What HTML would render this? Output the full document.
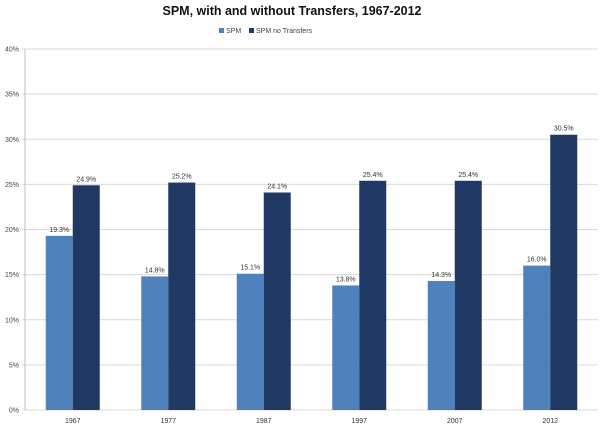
<!DOCTYPE html>
<html><head><meta charset="utf-8"><style>
body{margin:0;background:#fff;width:600px;height:429px;overflow:hidden;font-family:"Liberation Sans",sans-serif}
</style></head><body>
<svg id="chart" width="600" height="429" xmlns="http://www.w3.org/2000/svg">
<text x="292" y="15" text-anchor="middle" font-size="13" font-weight="bold" fill="#111" textLength="259" lengthAdjust="spacingAndGlyphs">SPM, with and without Transfers, 1967-2012</text>
<g font-size="7" fill="#444">
<rect x="219" y="28" width="5" height="5" fill="#4f81bd"/>
<text x="226" y="33">SPM</text>
<rect x="249" y="28" width="5" height="5" fill="#1f3864"/>
<text x="256" y="33">SPM no Transfers</text>
</g>
<g id="plot"></g>
</svg>
<script>
const categories=["1967","1977","1987","1997","2007","2012"];
const spm=[19.3,14.8,15.1,13.8,14.3,16.0];
const spmNoTransfers=[24.9,25.2,24.1,25.4,25.4,30.5];
const yTicks=[0,5,10,15,20,25,30,35,40];
const NS="http://www.w3.org/2000/svg";
const L=25,R=598,T=49,B=410,yMax=40;
const y=v=>B-(v/yMax)*(B-T);
const bw=(R-L)/categories.length;
const cx=i=>L+bw*(i+0.5);
const g=document.getElementById('plot');
function mk(tag,attrs){const e=document.createElementNS(NS,tag);for(const k in attrs)e.setAttribute(k,attrs[k]);g.appendChild(e);return e;}
yTicks.forEach(t=>{
  const ln=mk('line',{x1:L-3,x2:R,y1:y(t),y2:y(t),stroke:'#d9d9d9','stroke-width':1});
  
  
  const tx=mk('text',{x:L-6,y:y(t)+2.5,'text-anchor':'end','font-size':7,fill:'#444'});
  tx.textContent=t+'%';
  
  
});
const ax=mk('line',{x1:L,x2:L,y1:T,y2:B,stroke:'#bfbfbf','stroke-width':1});


const W=27;
categories.forEach((c,i)=>{
  const b1=mk('rect',{x:cx(i)-W,y:y(spm[i]),width:W,height:B-y(spm[i]),fill:'#4f81bd'});
  
  
  const b2=mk('rect',{x:cx(i),y:y(spmNoTransfers[i]),width:W,height:B-y(spmNoTransfers[i]),fill:'#1f3864'});
  
  
  const l1=mk('text',{x:cx(i)-W/2,y:y(spm[i])-4,'text-anchor':'middle','font-size':7,fill:'#333'});
  l1.textContent=spm[i].toFixed(1)+'%';
  
  
  const l2=mk('text',{x:cx(i)+W/2,y:y(spmNoTransfers[i])-4,'text-anchor':'middle','font-size':7,fill:'#333'});
  l2.textContent=spmNoTransfers[i].toFixed(1)+'%';
  
  
  const xl=mk('text',{x:cx(i),y:B+13,'text-anchor':'middle','font-size':7,fill:'#333'});
  xl.textContent=c;
  
  
});
</script>
</body></html>
